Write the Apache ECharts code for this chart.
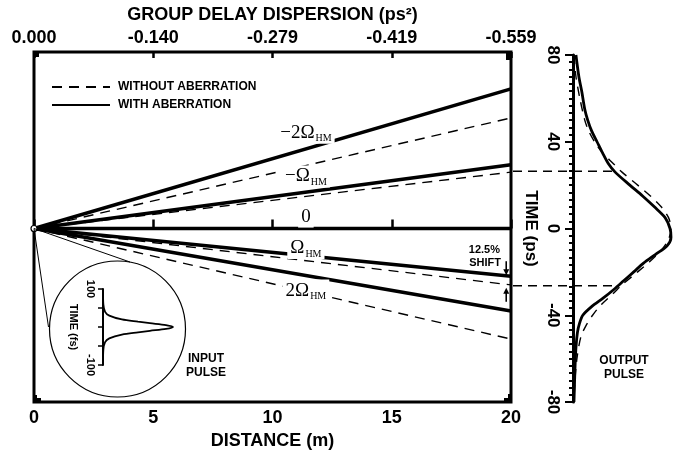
<!DOCTYPE html>
<html><head><meta charset="utf-8">
<script src="https://cdn.jsdelivr.net/npm/echarts@6/dist/echarts.min.js"></script>
<style>html,body{margin:0;padding:0;background:#fff}#c{width:679px;height:459px}</style>
</head><body><div id="c"></div>
<script>
// ---- data ----
const distanceM = [0, 20];                       // propagation distance (m)
const distTicks = [0, 5, 10, 15, 20];
const gddLabels = ['0.000', '-0.140', '-0.279', '-0.419', '-0.559'];
const shiftNames = ['−2Ω', '−Ω', '0', 'Ω', '2Ω'];
const delayWithout = [51, 26, 0, -26, -51];      // ps at 20 m, without aberration
const delayWith = [64.4, 29.4, 0, -22, -38];     // ps at 20 m, with aberration
const outTimeWith = [80, 70, 63, 55, 50, 45, 40, 35, 30, 26, 20, 15, 10, 5, 0, -4, -8, -12, -16, -20, -24, -28, -32, -36, -40, -44, -48, -55, -65, -80];
const outAmpWith  = [0.03, 0.06, 0.09, 0.12, 0.15, 0.19, 0.245, 0.30, 0.36, 0.43, 0.58, 0.71, 0.83, 0.94, 0.99, 1.0, 0.96, 0.84, 0.72, 0.62, 0.52, 0.42, 0.31, 0.19, 0.10, 0.065, 0.045, 0.03, 0.02, 0.01];
const outTimeWithout = [80, 70, 60, 50, 45, 40, 35, 30, 26, 20, 15, 10, 5, 0, -5, -10, -15, -20, -26, -30, -35, -40, -45, -50, -60, -70, -80];
const outAmpWithout  = [0.01, 0.03, 0.07, 0.12, 0.16, 0.22, 0.30, 0.41, 0.50, 0.66, 0.79, 0.90, 0.975, 1.0, 0.975, 0.90, 0.79, 0.66, 0.50, 0.41, 0.29, 0.20, 0.13, 0.08, 0.04, 0.02, 0.01];
const inTime = [100, 60, 40, 30, 20, 14, 10, 5, 0, -5, -10, -14, -20, -30, -40, -60, -100];   // fs
const inAmp  = [0, 0.005, 0.03, 0.09, 0.27, 0.5, 0.67, 0.9, 1, 0.9, 0.67, 0.5, 0.27, 0.09, 0.03, 0.005, 0];
const fwhmDelay = [26.4, -26.4];                 // ps, dashed guide lines
const timeTicksPs = [-80, -40, 0, 40, 80];

const FONT = "'Liberation Sans', Arial, Helvetica, sans-serif";
const SERIF = "'Liberation Serif', 'Times New Roman', serif";
const chart = echarts.init(document.getElementById('c'), null, {renderer: 'canvas'});

const BLACK = {color: '#000', opacity: 1};
const series = [];
shiftNames.forEach((n, i) => {
  if (delayWithout[i] !== 0) {
    series.push({
      name: 'WITHOUT ABERRATION', type: 'line', xAxisIndex: 0, yAxisIndex: 0, symbol: 'none', z: 2,
      data: [[distanceM[0], 0], [distanceM[1], delayWithout[i]]],
      itemStyle: BLACK,
      lineStyle: {color: '#000', width: 1.4, type: [10, 7]}
    });
  }
});
shiftNames.forEach((n, i) => {
  series.push({
    name: 'WITH ABERRATION', type: 'line', xAxisIndex: 0, yAxisIndex: 0, symbol: 'none', z: 3,
    data: [[distanceM[0], 0], [distanceM[1], delayWith[i]]],
    itemStyle: BLACK,
    lineStyle: {color: '#000', width: 3.5, type: 'solid', cap: 'butt'}
  });
});
// origin
series.push({
  name: 'origin', type: 'scatter', xAxisIndex: 0, yAxisIndex: 0, z: 6,
  data: [[distanceM[0], 0]], symbol: 'circle', symbolSize: 6,
  itemStyle: {color: '#fff', borderColor: '#000', borderWidth: 1.2, opacity: 1}
});
// line labels
const labelAnchor = [[11.4, 44.2], [11.4, 24], [11.4, 5.5], [11.4, -9], [11.4, -28.6]];
series.push({
  name: 'labels', type: 'scatter', xAxisIndex: 0, yAxisIndex: 0, z: 7, symbolSize: 0, silent: true,
  itemStyle: {color: '#000', opacity: 1},
  data: shiftNames.map((n, i) => ({value: labelAnchor[i]})),
  label: {
    show: true, position: 'inside', color: '#000', opacity: 1,
    textBorderWidth: 0, textBorderColor: 'transparent',
    formatter: p => {
      const n = shiftNames[p.dataIndex];
      return n === '0' ? '{m|0}' : '{m|' + n + '}{s|HM}';
    },
    rich: {
      m: {fontFamily: SERIF, fontSize: 19, color: '#000', lineHeight: 22, verticalAlign: 'middle', textBorderWidth: 0},
      s: {fontFamily: SERIF, fontSize: 10, color: '#000', lineHeight: 22, verticalAlign: 'bottom', padding: [0, 0, 0, 1], textBorderWidth: 0}
    },
    backgroundColor: '#fff', padding: [0, 3, 0, 3]
  }
});
// output pulse
series.push({
  name: 'WITHOUT ABERRATION', type: 'line', xAxisIndex: 2, yAxisIndex: 1, symbol: 'none', smooth: 0.3, z: 2,
  data: outAmpWithout.map((a, k) => [a, outTimeWithout[k]]),
  itemStyle: BLACK,
  lineStyle: {color: '#000', width: 1.4, type: [9, 7]}
});
series.push({
  name: 'WITH ABERRATION', type: 'line', xAxisIndex: 2, yAxisIndex: 1, symbol: 'none', smooth: 0.3, z: 3,
  data: outAmpWith.map((a, k) => [a, outTimeWith[k]]),
  itemStyle: BLACK,
  lineStyle: {color: '#000', width: 2.8, type: 'solid'}
});
// input pulse
series.push({
  name: 'INPUT PULSE', type: 'line', xAxisIndex: 3, yAxisIndex: 2, symbol: 'none', smooth: 0.3, z: 3,
  data: inAmp.map((a, k) => [a, inTime[k]]),
  itemStyle: BLACK,
  lineStyle: {color: '#000', width: 1.8}
});

const boldText = (size) => ({fontFamily: FONT, fontWeight: 'bold', fontSize: size, color: '#000'});

chart.setOption({
  animation: false,
  backgroundColor: '#fff',
  legend: {
    data: ['WITHOUT ABERRATION', 'WITH ABERRATION'],
    orient: 'vertical', left: 46, top: 76, itemWidth: 58, itemHeight: 10, itemGap: 6,
    selectedMode: false,
    itemStyle: {color: 'rgba(0,0,0,0)', borderColor: 'rgba(0,0,0,0)', borderWidth: 0, opacity: 0},
    textStyle: Object.assign(boldText(12), {padding: [0, 0, 0, 3]})
  },
  grid: [
    {left: 34, top: 52, width: 477, height: 350, show: true, borderColor: '#000', borderWidth: 3, backgroundColor: 'transparent', outerBoundsMode: 'none'},
    {left: 573, top: 55, width: 98, height: 347, outerBoundsMode: 'none'},
    {left: 103, top: 289, width: 70, height: 76, outerBoundsMode: 'none'}
  ],
  xAxis: [
    {gridIndex: 0, type: 'value', min: distTicks[0], max: distTicks[distTicks.length - 1], interval: 5, position: 'bottom',
     axisLine: {show: false}, splitLine: {show: false},
     axisTick: {show: true, inside: true, length: 9, lineStyle: {color: '#000', width: 2.5}},
     axisLabel: Object.assign(boldText(18), {margin: 7}),
     name: 'DISTANCE (m)', nameLocation: 'middle', nameGap: 29, nameTextStyle: boldText(18)},
    {gridIndex: 0, type: 'value', min: distTicks[0], max: distTicks[distTicks.length - 1], interval: 5, position: 'top',
     axisLine: {show: false}, splitLine: {show: false},
     axisTick: {show: true, inside: true, length: 6, lineStyle: {color: '#000', width: 2.5}},
     axisLabel: Object.assign(boldText(18), {margin: 5, formatter: v => gddLabels[Math.round(v / 5)]}),
     name: 'GROUP DELAY DISPERSION (ps²)', nameLocation: 'middle', nameGap: 27, nameTextStyle: boldText(18)},
    {gridIndex: 1, type: 'value', min: 0, max: 1, show: false},
    {gridIndex: 2, type: 'value', min: 0, max: 1, show: false}
  ],
  yAxis: [
    {gridIndex: 0, type: 'value', min: -80, max: 81.4, show: false},
    {gridIndex: 1, type: 'value', min: timeTicksPs[0], max: timeTicksPs[4], interval: 40, position: 'left',
     axisLine: {show: true, lineStyle: {color: '#000', width: 3}},
     axisTick: {show: true, length: 8, lineStyle: {color: '#000', width: 2}},
     minorTick: {show: true, splitNumber: 12, length: 4, lineStyle: {color: '#000', width: 2}},
     splitLine: {show: false}, minorSplitLine: {show: false},
     axisLabel: Object.assign(boldText(17), {rotate: -90, margin: 12}),
     name: 'TIME (ps)', nameLocation: 'middle', nameRotate: -90, nameGap: 34, nameTextStyle: boldText(17)},
    {gridIndex: 2, type: 'value', min: -100, max: 100, interval: 50, position: 'left',
     axisLine: {show: true, lineStyle: {color: '#000', width: 2}},
     axisTick: {show: true, length: 5, lineStyle: {color: '#000', width: 1.5}},
     splitLine: {show: false},
     axisLabel: Object.assign(boldText(11), {rotate: -90, margin: 7, formatter: v => (Math.abs(v) === 100 ? String(v) : '')}),
     name: 'TIME (fs)', nameLocation: 'middle', nameRotate: -90, nameGap: 24, nameTextStyle: boldText(11)}
  ],
  series: series
});

// annotations placed through the library's coordinate systems
const P = (g, v) => chart.convertToPixel({gridIndex: g}, v);
const origin = P(0, [0, 0]);
const graphics = [];
// thickened frame corners (as in the scanned original)
const gr = chart.getModel().getComponent('grid', 0).coordinateSystem.getRect();
const corner = (x, y, w, h) => graphics.push({type: 'rect', shape: {x: x, y: y, width: w, height: h}, style: {fill: '#000'}, z: 9});
corner(gr.x, gr.y, 5, 5);
corner(gr.x + gr.width - 5, gr.y, 5, 8);
corner(gr.x, gr.y + gr.height - 4, 7, 4);
corner(gr.x, gr.y + gr.height - 7, 3, 7);
corner(gr.x + gr.width - 7, gr.y + gr.height - 4, 7, 4);
corner(gr.x + gr.width - 3, gr.y + gr.height - 8, 3, 8);
// input-pulse magnifier circle and its two guide lines
const cc = [117.5, 329], r = 68;
graphics.push({type: 'circle', shape: {cx: cc[0], cy: cc[1], r: r}, style: {fill: 'none', stroke: '#000', lineWidth: 1.2}, z: 10});
graphics.push({type: 'line', shape: {x1: origin[0], y1: origin[1], x2: 48.5, y2: 327}, style: {stroke: '#000', lineWidth: 1}, z: 10});
graphics.push({type: 'line', shape: {x1: origin[0], y1: origin[1], x2: 130, y2: 262}, style: {stroke: '#000', lineWidth: 1}, z: 10});
graphics.push({type: 'text', x: 206, y: 366, style: {text: 'INPUT\nPULSE', align: 'center', verticalAlign: 'middle', lineHeight: 14, font: 'bold 12px ' + FONT, fill: '#000'}, z: 10});
graphics.push({type: 'text', x: 624, y: 368, style: {text: 'OUTPUT\nPULSE', align: 'center', verticalAlign: 'middle', lineHeight: 14, font: 'bold 12px ' + FONT, fill: '#000'}, z: 10});
// dashed FWHM guide lines to the output pulse
fwhmDelay.forEach(t => {
  const a = P(0, [distanceM[1], t]);
  const b = P(1, [0.44, t]);
  graphics.push({type: 'line', shape: {x1: a[0] + 2, y1: a[1], x2: b[0], y2: b[1]}, style: {stroke: '#000', lineWidth: 1.4, lineDash: [9, 6]}, z: 10});
});
// 12.5% shift annotation with arrows
const tipDown = P(0, [19.8, delayWith[3]]);
const tipUp = P(0, [19.8, fwhmDelay[1]]);
graphics.push({type: 'text', x: 500, y: 250, style: {text: '12.5%', align: 'right', verticalAlign: 'middle', font: 'bold 11px ' + FONT, fill: '#000'}, z: 10});
graphics.push({type: 'text', x: 501, y: 263, style: {text: 'SHIFT', align: 'right', verticalAlign: 'middle', font: 'bold 11px ' + FONT, fill: '#000'}, z: 10});
graphics.push({type: 'line', shape: {x1: tipDown[0], y1: tipDown[1] - 15, x2: tipDown[0], y2: tipDown[1] - 5}, style: {stroke: '#000', lineWidth: 1.6}, z: 10});
graphics.push({type: 'polygon', shape: {points: [[tipDown[0] - 3, tipDown[1] - 7], [tipDown[0] + 3, tipDown[1] - 7], [tipDown[0], tipDown[1] - 1]]}, style: {fill: '#000'}, z: 10});
graphics.push({type: 'line', shape: {x1: tipUp[0], y1: tipUp[1] + 16, x2: tipUp[0], y2: tipUp[1] + 6}, style: {stroke: '#000', lineWidth: 1.6}, z: 10});
graphics.push({type: 'polygon', shape: {points: [[tipUp[0] - 3, tipUp[1] + 8], [tipUp[0] + 3, tipUp[1] + 8], [tipUp[0], tipUp[1] + 2]]}, style: {fill: '#000'}, z: 10});
chart.setOption({graphic: graphics});
</script>
</body></html>
